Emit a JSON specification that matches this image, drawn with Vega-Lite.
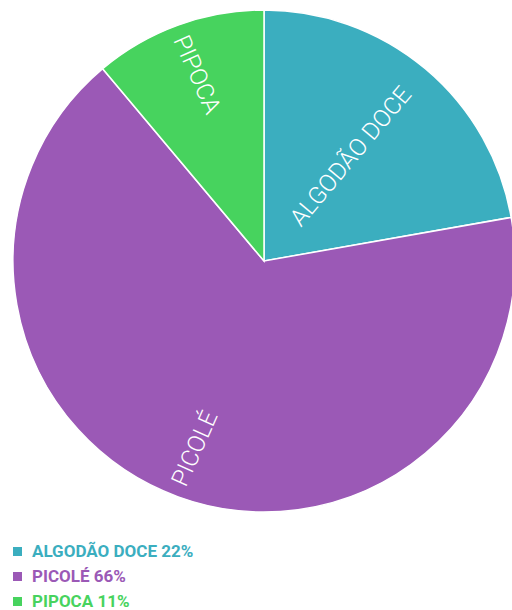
{
  "$schema": "https://vega.github.io/schema/vega-lite/v6.json",
  "width": 528,
  "height": 522,
  "padding": 0,
  "autosize": {"type": "pad"},
  "background": "white",
  "view": {"stroke": null},
  "data": {"values": [
    {"name": "ALGODÃO DOCE", "legend": "ALGODÃO DOCE 22%", "value": 22},
    {"name": "PICOLÉ", "legend": "PICOLÉ 66%", "value": 66},
    {"name": "PIPOCA", "legend": "PIPOCA 11%", "value": 11}
  ]},
  "encoding": {"theta": {"field": "value", "type": "quantitative", "stack": true}},
  "layer": [
    {
      "mark": {"type": "arc", "outerRadius": 251, "stroke": "white", "strokeWidth": 1.5},
      "encoding": {
        "color": {
          "field": "legend", "type": "nominal",
          "scale": {"range": ["#3BAEBF", "#9B59B6", "#47D35E"]},
          "legend": {
            "orient": "none", "legendX": 9, "legendY": 543, "title": null,
            "symbolType": "square", "symbolSize": 81, "symbolStrokeWidth": 0,
            "labelFont": "Roboto", "labelFontSize": 17, "labelFontWeight": "bold",
            "labelLimit": 400,
            "labelColor": {"expr": "scale('color', datum.value)"},
            "labelOffset": 6, "rowPadding": 7, "padding": 0
          }
        }
      }
    },
    {
      "mark": {"type": "text", "radius": 136, "angle": 310, "color": "white", "fontSize": 24, "letterSpacing": 0.5, "font": "Roboto", "fontWeight": 300},
      "encoding": {
        "detail": {"field": "legend"},
        "text": {"condition": {"test": "datum.name === 'ALGODÃO DOCE'", "field": "name"}, "value": ""}
      }
    },
    {
      "mark": {"type": "text", "radius": 200, "angle": 294, "color": "white", "fontSize": 24, "letterSpacing": 0.5, "font": "Roboto", "fontWeight": 300},
      "encoding": {
        "detail": {"field": "legend"},
        "text": {"condition": {"test": "datum.name === 'PICOLÉ'", "field": "name"}, "value": ""}
      }
    },
    {
      "mark": {"type": "text", "radius": 198, "angle": 66, "color": "white", "fontSize": 24, "letterSpacing": 0.5, "font": "Roboto", "fontWeight": 300},
      "encoding": {
        "detail": {"field": "legend"},
        "text": {"condition": {"test": "datum.name === 'PIPOCA'", "field": "name"}, "value": ""}
      }
    }
  ]
}
